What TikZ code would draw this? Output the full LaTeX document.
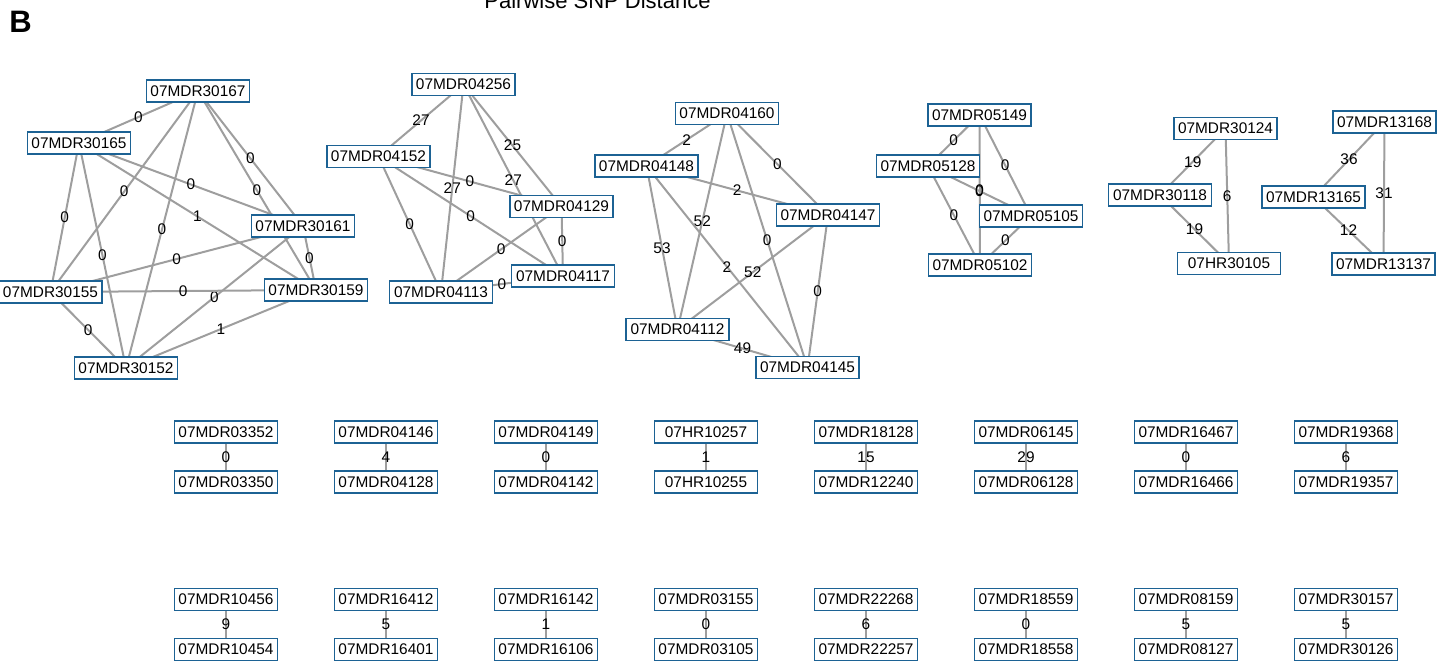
\documentclass[tikz,border=0pt]{standalone}
\usepackage{fontspec}
\setmainfont{Liberation Sans}
\usetikzlibrary{backgrounds}
\definecolor{boxblue}{RGB}{28,98,148}
\definecolor{edgegray}{RGB}{158,158,158}
\tikzset{
  sample/.style={draw=boxblue, line width=0.75pt, fill=white, minimum width=51.5pt,
    minimum height=11pt, inner sep=0pt, font=\fontsize{7.7}{8}\selectfont, text=black},
  link/.style={draw=edgegray, line width=1pt},
  dist/.style={font=\fontsize{7.7}{8}\selectfont, inner sep=0pt, midway, text=black}
}
\begin{document}
\begin{tikzpicture}[x=0.5pt,y=-0.5pt]
\useasboundingbox (0,0) rectangle (1449,660);
\clip (0,0) rectangle (1449,660);
\node[anchor=base, font=\fontsize{11}{13}\selectfont] (title) at (597.5,8) {Pairwise SNP Distance};
\node[anchor=base west, inner sep=0pt, font=\fontsize{15.5}{17}\selectfont\bfseries] (panel) at (9,32.5) {B};

% cluster 1
\node[sample] (a1) at (198,91) {07MDR30167};
\node[sample] (a2) at (79,143) {07MDR30165};
\node[sample] (a3) at (303,226) {07MDR30161};
\node[sample] (a4) at (50.5,292) {07MDR30155};
\node[sample] (a5) at (316,290) {07MDR30159};
\node[sample] (a6) at (126,368) {07MDR30152};
% cluster 2
\node[sample] (c1) at (463.5,84.5) {07MDR04256};
\node[sample] (c2) at (378.5,156.5) {07MDR04152};
\node[sample] (c3) at (561.5,206.5) {07MDR04129};
\node[sample] (c4) at (563,276) {07MDR04117};
\node[sample] (c5) at (441,292) {07MDR04113};
% cluster 3
\node[sample] (d1) at (727,113.5) {07MDR04160};
\node[sample] (d2) at (646.5,166) {07MDR04148};
\node[sample] (d3) at (828,215) {07MDR04147};
\node[sample] (d4) at (677.5,329.5) {07MDR04112};
\node[sample] (d5) at (807.5,367.5) {07MDR04145};
% cluster 4
\node[sample] (e1) at (979.5,115) {07MDR05149};
\node[sample] (e2) at (928,166) {07MDR05128};
\node[sample] (e3) at (1031,216) {07MDR05105};
\node[sample] (e4) at (980,265) {07MDR05102};
% cluster 5
\node[sample] (f1) at (1225.5,128.5) {07MDR30124};
\node[sample] (f2) at (1160,195) {07MDR30118};
\node[sample] (f3) at (1229,263.5) {07HR30105};
% cluster 6
\node[sample] (g1) at (1384.5,122) {07MDR13168};
\node[sample] (g2) at (1313.5,197) {07MDR13165};
\node[sample] (g3) at (1383.5,264) {07MDR13137};

\begin{scope}[on background layer]
\draw[link] (a1.center) -- node[dist]{0} (a2.center);
\draw[link] (a1.center) -- node[dist]{0} (a3.center);
\draw[link] (a1.center) -- node[dist]{0} (a4.center);
\draw[link] (a1.center) -- node[dist]{0} (a5.center);
\draw[link] (a1.center) -- node[dist]{0} (a6.center);
\draw[link] (a2.center) -- node[dist]{0} (a3.center);
\draw[link] (a2.center) -- node[dist]{0} (a4.center);
\draw[link] (a2.center) -- node[dist]{1} (a5.center);
\draw[link] (a2.center) -- node[dist]{0} (a6.center);
\draw[link] (a3.center) -- node[dist]{0} (a4.center);
\draw[link] (a3.center) -- node[dist]{0} (a5.center);
\draw[link] (a3.center) -- node[dist]{0} (a6.center);
\draw[link] (a4.center) -- node[dist]{0} (a5.center);
\draw[link] (a4.center) -- node[dist]{0} (a6.center);
\draw[link] (a5.center) -- node[dist]{1} (a6.center);

\draw[link] (c1.center) -- node[dist]{27} (c2.center);
\draw[link] (c1.center) -- node[dist]{25} (c3.center);
\draw[link] (c1.center) -- node[dist]{27} (c4.center);
\draw[link] (c1.center) -- node[dist]{27} (c5.center);
\draw[link] (c2.center) -- node[dist]{0} (c3.center);
\draw[link] (c2.center) -- node[dist]{0} (c4.center);
\draw[link] (c2.center) -- node[dist]{0} (c5.center);
\draw[link] (c3.center) -- node[dist]{0} (c4.center);
\draw[link] (c3.center) -- node[dist]{0} (c5.center);
\draw[link] (c4.center) -- node[dist]{0} (c5.center);

\draw[link] (d1.center) -- node[dist]{2} (d2.center);
\draw[link] (d1.center) -- node[dist]{0} (d3.center);
\draw[link] (d1.center) -- node[dist]{52} (d4.center);
\draw[link] (d1.center) -- node[dist]{0} (d5.center);
\draw[link] (d2.center) -- node[dist]{2} (d3.center);
\draw[link] (d2.center) -- node[dist]{53} (d4.center);
\draw[link] (d2.center) -- node[dist]{2} (d5.center);
\draw[link] (d3.center) -- node[dist]{52} (d4.center);
\draw[link] (d3.center) -- node[dist]{0} (d5.center);
\draw[link] (d4.center) -- node[dist]{49} (d5.center);

\draw[link] (e1.center) -- node[dist]{0} (e2.center);
\draw[link] (e1.center) -- node[dist]{0} (e3.center);
\draw[link] (e1.center) -- node[dist]{0} (e4.center);
\draw[link] (e2.center) -- node[dist]{0} (e3.center);
\draw[link] (e2.center) -- node[dist]{0} (e4.center);
\draw[link] (e3.center) -- node[dist]{0} (e4.center);

\draw[link] (f1.center) -- node[dist]{19} (f2.center);
\draw[link] (f1.center) -- node[dist]{6} (f3.center);
\draw[link] (f2.center) -- node[dist]{19} (f3.center);

\draw[link] (g1.center) -- node[dist]{36} (g2.center);
\draw[link] (g1.center) -- node[dist]{31} (g3.center);
\draw[link] (g2.center) -- node[dist]{12} (g3.center);
\end{scope}

% pairs
\foreach \px/\ta/\tb/\dd [count=\i] in {
  226/07MDR03352/07MDR03350/0, 386/07MDR04146/07MDR04128/4,
  546/07MDR04149/07MDR04142/0, 706/07HR10257/07HR10255/1,
  866/07MDR18128/07MDR12240/15, 1026/07MDR06145/07MDR06128/29,
  1186/07MDR16467/07MDR16466/0, 1346/07MDR19368/07MDR19357/6}{
  \node[sample] (p\i) at (\px,432) {\ta};
  \node[sample] (q\i) at (\px,482) {\tb};
  \begin{scope}[on background layer]
    \draw[link] (p\i.center) -- node[dist]{\dd} (q\i.center);
  \end{scope}
}
\foreach \px/\ta/\tb/\dd [count=\i] in {
  226/07MDR10456/07MDR10454/9, 386/07MDR16412/07MDR16401/5,
  546/07MDR16142/07MDR16106/1, 706/07MDR03155/07MDR03105/0,
  866/07MDR22268/07MDR22257/6, 1026/07MDR18559/07MDR18558/0,
  1186/07MDR08159/07MDR08127/5, 1346/07MDR30157/07MDR30126/5}{
  \node[sample] (r\i) at (\px,599.5) {\ta};
  \node[sample] (s\i) at (\px,649.5) {\tb};
  \begin{scope}[on background layer]
    \draw[link] (r\i.center) -- node[dist]{\dd} (s\i.center);
  \end{scope}
}
\end{tikzpicture}
\end{document}
